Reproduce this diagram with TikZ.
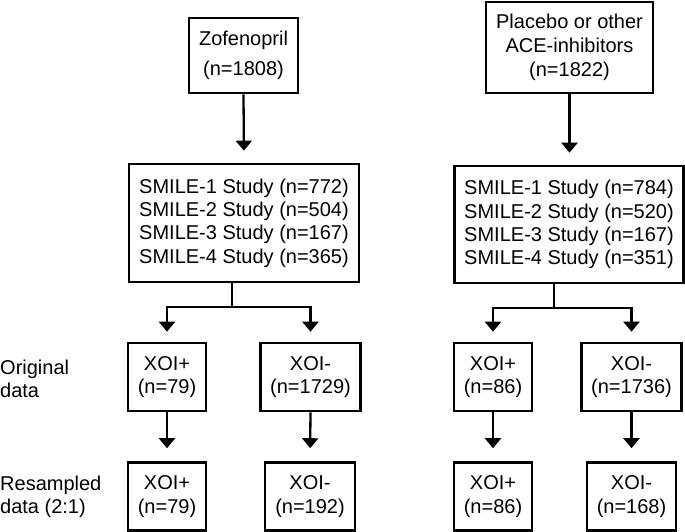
\documentclass[tikz,border=0pt]{standalone}
\usepackage{fontspec}
\setmainfont{Liberation Sans}
\usetikzlibrary{arrows.meta}
\begin{document}
\begin{tikzpicture}[x=1pt,y=-1pt,
  box/.style={draw, line width=2.6pt, inner sep=0pt, align=center, font=\fontsize{20}{23.3}\selectfont},
  lab/.style={inner sep=0pt, align=left, anchor=west, font=\fontsize{20}{23.3}\selectfont},
  arr/.style={line width=2.3pt, -{Triangle[width=16pt,length=10pt]}, shorten >=10pt},
  ln/.style={line width=2.3pt}]
\useasboundingbox (0,0) rectangle (685,532);
% top
\node[box, minimum width=109pt, minimum height=75pt, font=\fontsize{20}{30}\selectfont] (zof) at (243.5,55.5) {Zofenopril\\(n=1808)};
\node[box, minimum width=167pt, minimum height=91pt, font=\fontsize{20}{24.3}\selectfont] (pla) at (569.5,47.5) {Placebo or other\\ACE-inhibitors\\(n=1822)};
% studies
\node[box, minimum width=230pt, minimum height=118pt] (smL) at (244,223) {SMILE-1 Study (n=772)\\SMILE-2 Study (n=504)\\SMILE-3 Study (n=167)\\SMILE-4 Study (n=365)};
\node[box, minimum width=229pt, minimum height=117pt] (smR) at (569,224.5) {SMILE-1 Study (n=784)\\SMILE-2 Study (n=520)\\SMILE-3 Study (n=167)\\SMILE-4 Study (n=351)};
% original
\node[box, minimum width=78pt, minimum height=68pt] (o1) at (167,377) {XOI+\\(n=79)};
\node[box, minimum width=100pt, minimum height=68pt] (o2) at (310.5,377) {XOI-\\(n=1729)};
\node[box, minimum width=78pt, minimum height=68pt] (o3) at (493,377) {XOI+\\(n=86)};
\node[box, minimum width=100pt, minimum height=68pt] (o4) at (631.5,377) {XOI-\\(n=1736)};
% resampled
\node[box, minimum width=78pt, minimum height=68pt] (r1) at (167,496.5) {XOI+\\(n=79)};
\node[box, minimum width=90pt, minimum height=68pt] (r2) at (310,496.5) {XOI-\\(n=192)};
\node[box, minimum width=78pt, minimum height=68pt] (r3) at (493,496.5) {XOI+\\(n=86)};
\node[box, minimum width=89pt, minimum height=68pt] (r4) at (631.5,496.5) {XOI-\\(n=168)};
% labels
\node[lab] (lo) at (0,379) {Original\\data};
\node[lab] (lr) at (0,497) {Resampled\\data (2:1)};
% connectors
\draw[arr, shorten >=12pt] (zof.south) -- (smL.north);
\draw[arr, shorten >=12pt] (pla.south) -- (pla.south |- smR.north);
\coordinate (jL) at (232,307);
\coordinate (jR) at (554,308);
\draw[ln] (smL.south -| jL) -- (jL);
\draw[ln] (smR.south -| jR) -- (jR);
\draw[arr] (jL) -| (o1.north);
\draw[arr] (jL) -| (o2.north);
\draw[arr] (jR) -| (o3.north);
\draw[arr] (jR) -| (o4.north);
\draw[arr, shorten >=13pt] (o1.south) -- (r1.north);
\draw[arr, shorten >=13pt] (o2.south) -- (r2.north);
\draw[arr, shorten >=13pt] (o3.south) -- (r3.north);
\draw[arr, shorten >=13pt] (o4.south) -- (r4.north);
\end{tikzpicture}
\end{document}
